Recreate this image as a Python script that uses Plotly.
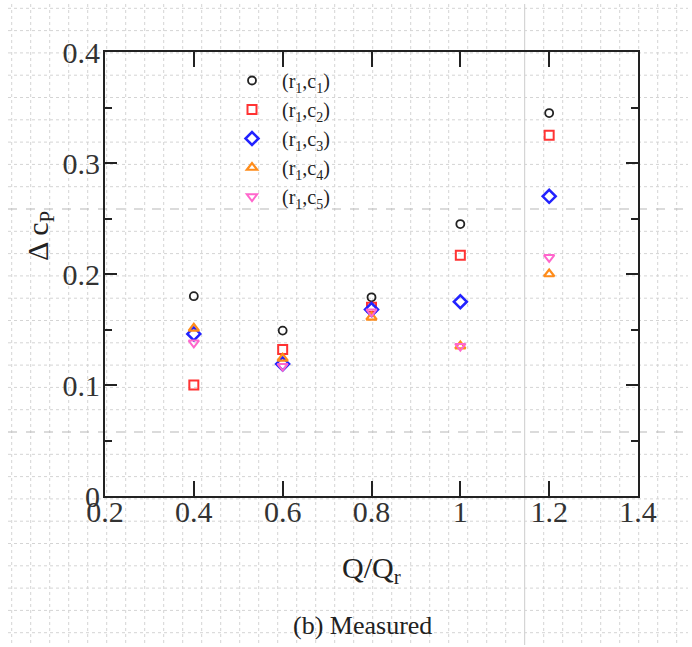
import plotly.graph_objects as go

# ---- data ----
q_ratio = [0.4, 0.6, 0.8, 1.0, 1.2]
dcp_c1 = [0.180, 0.149, 0.179, 0.245, 0.345]
dcp_c2 = [0.100, 0.132, 0.170, 0.217, 0.325]
dcp_c3 = [0.146, 0.119, 0.168, 0.175, 0.270]
dcp_c4 = [0.151, 0.124, 0.161, 0.135, 0.200]
dcp_c5 = [0.138, 0.117, 0.166, 0.135, 0.215]
series_names = ["(r<sub>1</sub>,c<sub>1</sub>)", "(r<sub>1</sub>,c<sub>2</sub>)",
                "(r<sub>1</sub>,c<sub>3</sub>)", "(r<sub>1</sub>,c<sub>4</sub>)",
                "(r<sub>1</sub>,c<sub>5</sub>)"]
x_ticks = [0.2, 0.4, 0.6, 0.8, 1.0, 1.2, 1.4]
x_tick_text = ["0.2", "0.4", "0.6", "0.8", "1", "1.2", "1.4"]
y_ticks = [0, 0.1, 0.2, 0.3, 0.4]
y_tick_text = ["0", "0.1", "0.2", "0.3", "0.4"]

styles = [
    dict(symbol="circle-open", color="#222222", size=8, width=1.8),
    dict(symbol="square-open", color="#ff3333", size=9, width=2),
    dict(symbol="diamond-open", color="#2222ff", size=10, width=2.5),
    dict(symbol="triangle-up-open", color="#ff8c1a", size=9, width=2.2),
    dict(symbol="triangle-down-open", color="#ff66cc", size=9, width=2),
]

W, H = 692, 647
L, R, T, B = 105, 638, 52, 496   # plot area in pixels

FONT = "Liberation Serif"

fig = go.Figure()
for name, ys, st in zip(series_names, [dcp_c1, dcp_c2, dcp_c3, dcp_c4, dcp_c5], styles):
    fig.add_trace(go.Scatter(
        x=q_ratio, y=ys, mode="markers", name="\u00a0\u00a0" + name,
        marker=dict(symbol=st["symbol"], size=st["size"], color=st["color"],
                    line=dict(color=st["color"], width=st["width"])),
    ))

# background graph-paper pattern
def px2x(px):
    return (px - L) / (R - L)

def py2y(py):
    return (B - py) / (B - T)

shapes = []
for k in range(36):
    px = 11.7 + 19.0 * k
    dark = (k == 27)
    shapes.append(dict(type="line", xref="paper", yref="paper", layer="below",
                       x0=px2x(px), x1=px2x(px), y0=py2y(4), y1=py2y(645),
                       line=dict(color="#cccccc" if dark else "#d4d4d4",
                                 width=1, dash="solid" if dark else "dot")))
for k in range(29):
    py = 8.3 + 22.3 * k
    dark = (k in (9, 19))
    shapes.append(dict(type="line", xref="paper", yref="paper", layer="below",
                       x0=px2x(8), x1=px2x(688), y0=py2y(py), y1=py2y(py),
                       line=dict(color="#b8b8b8" if dark else "#d4d4d4",
                                 width=1.2 if dark else 1, dash="dash" if dark else "dot")))

annotations = [
    dict(text="Δ c<sub>P</sub>", xref="paper", yref="paper", x=px2x(40), y=py2y(236),
         showarrow=False, textangle=-90, font=dict(family=FONT, size=30, color="#222"),
         xanchor="center", yanchor="middle"),
    dict(text="Q/Q<sub>r</sub>", xref="paper", yref="paper", x=px2x(371), y=py2y(570),
         showarrow=False, font=dict(family=FONT, size=30, color="#222"),
         xanchor="center", yanchor="middle"),
    dict(text="(b) Measured", xref="paper", yref="paper", x=px2x(362), y=py2y(625),
         showarrow=False, font=dict(family=FONT, size=26, color="#222"),
         xanchor="center", yanchor="middle"),
]

fig.update_layout(
    width=W, height=H,
    margin=dict(l=L, r=W - R, t=T, b=H - B, pad=0),
    paper_bgcolor="white", plot_bgcolor="rgba(0,0,0,0)",
    shapes=shapes, annotations=annotations,
    font=dict(family=FONT, color="#222"),
    legend=dict(x=px2x(232), y=py2y(61), xanchor="left", yanchor="top",
                bgcolor="rgba(0,0,0,0)", font=dict(family=FONT, size=20, color="#222"),
                itemwidth=30, tracegroupgap=0),
    showlegend=True,
)
fig.update_xaxes(range=[0.2, 1.4], tickmode="array", tickvals=x_ticks, ticktext=x_tick_text,
                 ticks="inside", ticklen=15, tickwidth=2, tickcolor="#222",
                 showline=True, linecolor="#222", linewidth=2, mirror="ticks",
                 showgrid=False, zeroline=False, ticklabelstandoff=-12,
                 tickfont=dict(family=FONT, size=30, color="#333"))
fig.update_yaxes(range=[0, 0.4], tickmode="array", tickvals=y_ticks, ticktext=y_tick_text,
                 ticks="inside", ticklen=12, tickwidth=2, tickcolor="#222",
                 minor=dict(ticks="inside", ticklen=7, tickwidth=1.5, tickcolor="#222", dtick=0.05),
                 showline=True, linecolor="#222", linewidth=2, mirror="ticks",
                 showgrid=False, zeroline=False, ticklabelstandoff=-3,
                 tickfont=dict(family=FONT, size=30, color="#333"))

fig.write_html("out.html")
